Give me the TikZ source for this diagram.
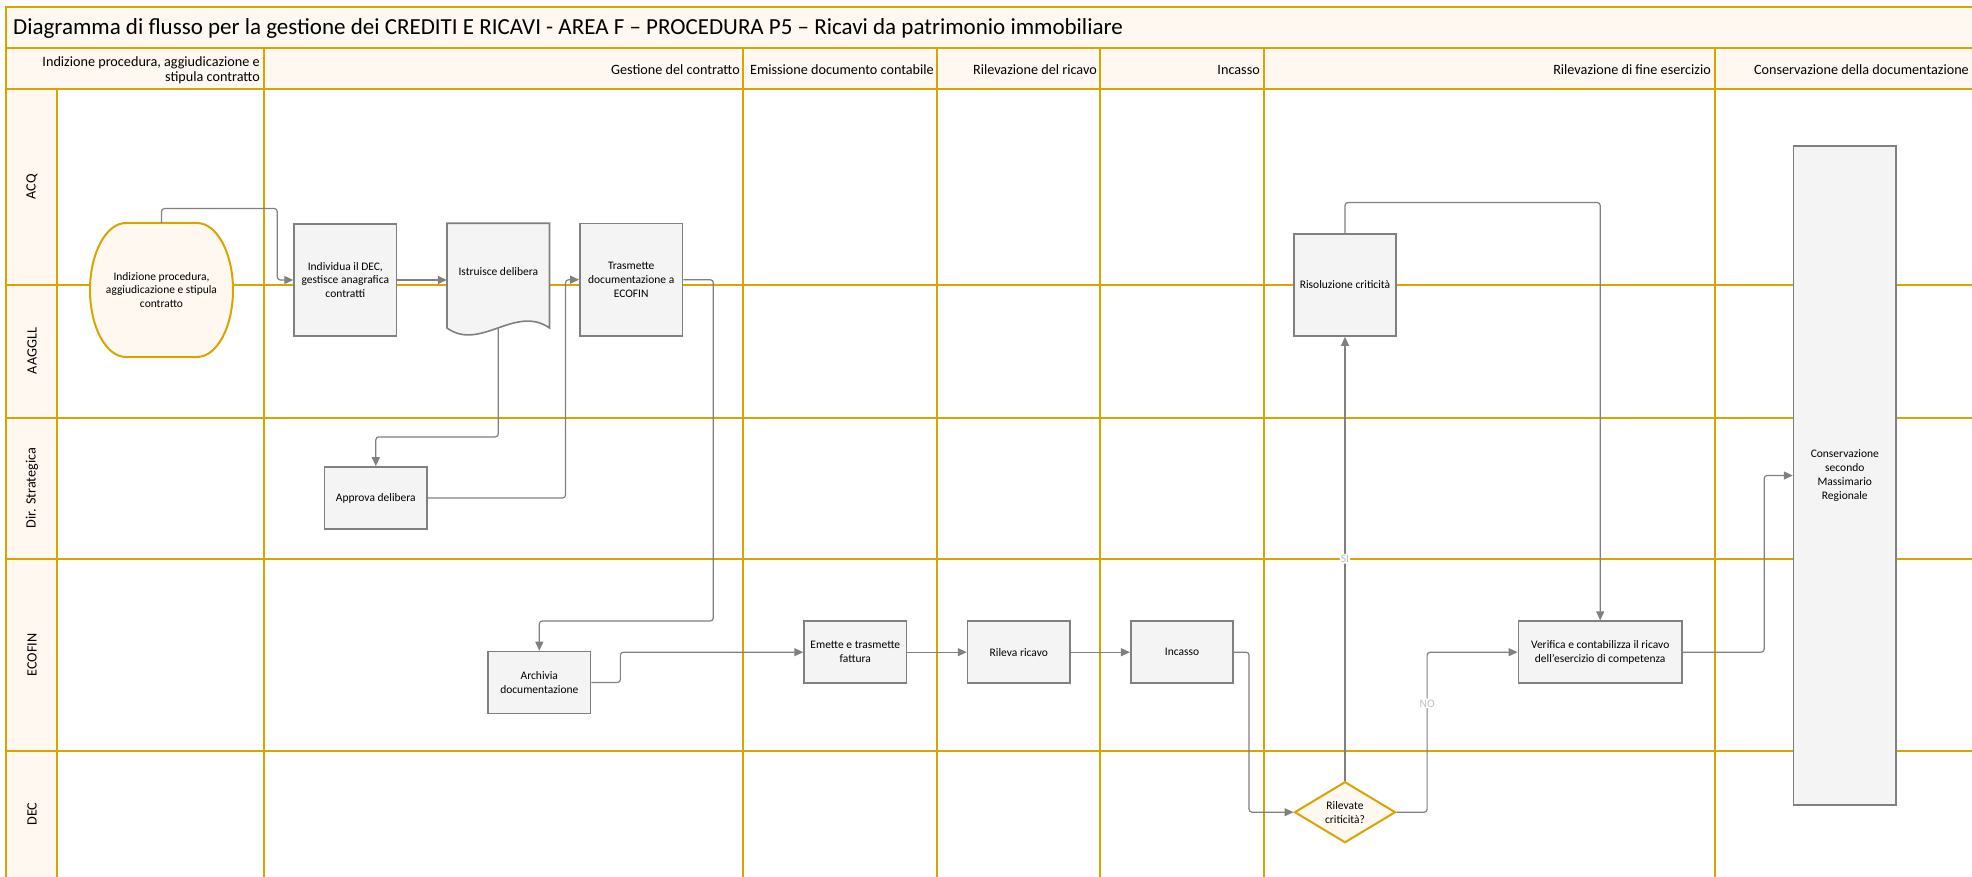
\documentclass[tikz,border=0pt]{standalone}
\usepackage{fontspec}
\setmainfont{Carlito}
\usetikzlibrary{arrows.meta,shapes.geometric,calc}

\definecolor{gold}{RGB}{217,163,0}
\definecolor{cream}{RGB}{254,248,241}
\definecolor{boxfill}{RGB}{244,244,244}
\definecolor{boxline}{RGB}{128,128,128}
\definecolor{flowline}{RGB}{128,128,128}
\definecolor{tagcol}{RGB}{191,191,191}

\newcommand{\bodyfont}{\fontsize{11.5}{13.8}\selectfont}
\newcommand{\headfont}{\fontsize{14.2}{15}\selectfont}

\tikzset{
  lane/.style={draw=gold, line width=2pt},
  hdr/.style={anchor=east, font=\headfont, align=right, inner sep=0pt},
  who/.style={rotate=90, font=\headfont, inner sep=0pt},
  act/.style={draw=boxline, fill=boxfill, line width=1.6pt, font=\bodyfont,
    align=center, inner sep=1pt, minimum width=102.5pt, minimum height=62pt},
  tall/.style={act, minimum height=112.5pt},
  flowarrow/.style={draw=flowline, line width=1.2pt, rounded corners=3pt,
    -{Triangle[length=9pt,width=8pt]}},
  tag/.style={font=\bodyfont, text=tagcol, fill=white, inner sep=1pt},
}

\begin{document}
\begin{tikzpicture}[x=1pt,y=-1pt]
    \path[use as bounding box] (0,0) rectangle (1972,877);

    % Bands
    \fill[cream] (6,7) rectangle (1980,89);
    \fill[cream] (6,89) rectangle (57,885);

    % Lanes
    \draw[lane] (6,885) -- (6,7) -- (1980,7);
    \foreach \y in {48.5,89,285,417.7,559,750.7}
        \draw[lane] (6,\y) -- (1980,\y);
    \draw[lane] (57,89) -- (57,885);
    \foreach \x in {263.5,743,937,1100,1263.5,1714.5}
        \draw[lane] (\x,48.5) -- (\x,885);

    % Title
    \node[anchor=west, font=\fontsize{23}{27}\selectfont, inner sep=0pt] (title) at (13,28)
        {Diagramma di flusso per la gestione dei CREDITI E RICAVI - AREA F – PROCEDURA P5 – Ricavi da patrimonio immobiliare};

    % Phases
    \node[hdr] (hIndiz) at (260,70) {Indizione procedura, aggiudicazione e\\stipula contratto};
    \node[hdr] (hGest) at (740,70) {Gestione del contratto};
    \node[hdr] (hEmis) at (934,70) {Emissione documento contabile};
    \node[hdr] (hRilev) at (1097,70) {Rilevazione del ricavo};
    \node[hdr] (hIncas) at (1260,70) {Incasso};
    \node[hdr] (hFine) at (1711,70) {Rilevazione di fine esercizio};
    \node[hdr] (hCons) at (1969,70) {Conservazione della documentazione};

    % Roles
    \node[who] (lACQ) at (32,187) {ACQ};
    \node[who] (lAAGGLL) at (32,351) {AAGGLL};
    \node[who] (lDir) at (32,488) {Dir. Strategica};
    \node[who] (lECO) at (32,655) {ECOFIN};
    \node[who] (lDEC) at (32,814) {DEC};

    % Start
    \draw[draw=gold, fill=cream, line width=2pt] (126,223) -- (197,223)
        arc[start angle=90, end angle=-90, x radius=36pt, y radius=67pt] -- (126,357)
        arc[start angle=270, end angle=90, x radius=36pt, y radius=67pt] -- cycle;
    \node[font=\bodyfont, align=center, minimum width=143pt, minimum height=134pt, inner sep=0pt]
        (start) at (161.5,290) {Indizione procedura,\\aggiudicazione e stipula\\contratto};

    % Document
    \draw[draw=boxline, fill=boxfill, line width=1.6pt] (447,223.3) -- (549.5,223.3) -- (549.5,328)
        .. controls (515.5,304) and (480,352) .. (447,328) -- cycle;
    \node[font=\bodyfont, align=center, minimum width=102.5pt, minimum height=96pt, inner sep=0pt]
        (istr) at (498.3,271.3) {Istruisce delibera};
    \coordinate (istrbot) at ($(istr.south)+(0,9)$);

    % Activities
    \node[tall] (indiv) at (345.3,280) {Individua il DEC,\\gestisce anagrafica\\contratti};
    \node[act] (appr) at (375.8,498) {Approva delibera};
    \node[tall] (trasm) at (631.2,279.7) {Trasmette\\documentazione a\\ECOFIN};
    \node[act] (arch) at (539.3,682.5) {Archivia\\documentazione};
    \node[act] (emet) at (855.3,652.2) {Emette e trasmette\\fattura};
    \node[act] (rilev) at (1018.8,652.2) {Rileva ricavo};
    \node[act] (incas) at (1182,652.2) {Incasso};
    \node[diamond, draw=gold, fill=cream, line width=2pt, aspect=1.66, inner sep=0pt,
        minimum width=101pt, minimum height=61pt, font=\bodyfont, align=center]
        (crit) at (1345,812.2) {Rilevate\\criticità?};
    \node[act, minimum height=102pt] (risol) at (1345,285) {Risoluzione criticità};
    \node[act, minimum width=163.7pt] (verif) at (1600.2,652.2)
        {Verifica e contabilizza il ricavo\\dell’esercizio di competenza};
    \node[act, minimum height=659pt] (cons) at (1844.8,475.5)
        {Conservazione\\secondo\\Massimario\\Regionale};

    % Flow
    \draw[flowarrow] (start.north) -- ++(0,-14.3) -| ($(indiv.west)+(-16,0)$) -- (indiv.west);
    \draw[flowarrow] (indiv.east) -- (indiv.east -| istr.west);
    \draw[flowarrow] (istrbot) -- ++(0,108.4) -| (appr.north);
    \draw[flowarrow] (appr.east) -- ++(137.7,0) |- (trasm.west);
    \draw[flowarrow] (trasm.east) -- ++(30,0) -- ++(0,341.3) -| (arch.north);
    \draw[flowarrow] (arch.east) -- ++(29,0) |- (emet.west);
    \draw[flowarrow] (emet) -- (rilev);
    \draw[flowarrow] (rilev) -- (incas);
    \draw[flowarrow] (incas.east) -- ++(15,0) |- (crit.west);
    \draw[flowarrow] (crit.north) -- (risol.south) node[tag, pos=0.5] (tSI) {SI};
    \draw[flowarrow] (crit.east) -- ++(30.6,0) |- (verif.west) node[tag, pos=0.34] (tNO) {NO};
    \draw[flowarrow] (risol.north) -- ++(0,-30.7) -| (verif.north);
    \draw[flowarrow] (verif.east) -- ++(81.3,0) |- (cons.west);
\end{tikzpicture}
\end{document}
